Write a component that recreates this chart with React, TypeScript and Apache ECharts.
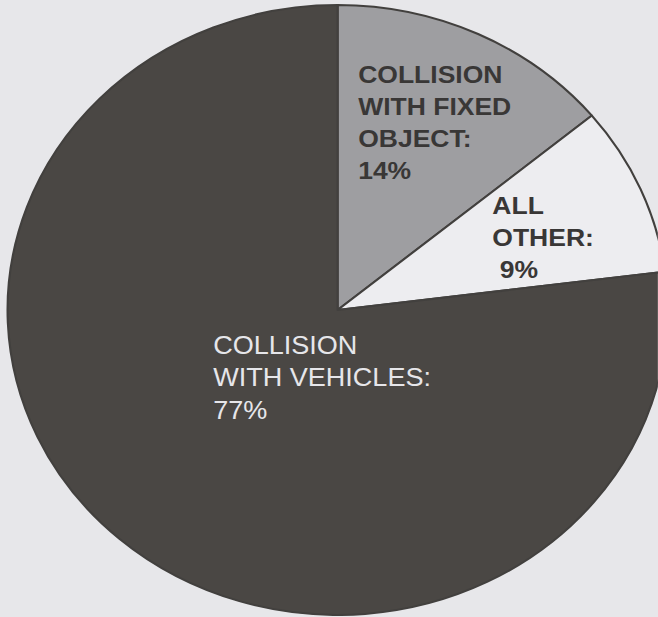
import React, { useEffect, useRef } from 'react';
import * as echarts from 'echarts';

// Slices in drawing order, clockwise from 12 o'clock
const categories = ['COLLISION WITH FIXED OBJECT', 'ALL OTHER', 'COLLISION WITH VEHICLES'];
const labelNames = ['COLLISION\nWITH FIXED\nOBJECT', 'ALL\nOTHER', 'COLLISION\nWITH VEHICLES'];
const shares = [14, 9, 77];
const sliceColors = ['#9e9ea1', '#ededf0', '#4a4744'];

// the scanned original is slightly stretched horizontally
const SX = 1.082;

export default function App() {
  const ref = useRef<HTMLDivElement>(null);

  useEffect(() => {
    const chart = echarts.init(ref.current!, null, { renderer: 'svg' });

    const labelStyles = [
      { x: 331, y: 58, weight: 'bold', size: 24.5, fill: '#393736', lh: 32, indent: '' },
      { x: 455, y: 189, weight: 'bold', size: 24.5, fill: '#393736', lh: 32, indent: ' ' },
      { x: 197, y: 329, weight: 'normal', size: 25, fill: '#e6e6ea', lh: 32.5, indent: '' },
    ];

    chart.setOption({
      animation: false,
      backgroundColor: 'transparent',
      series: [
        {
          type: 'pie',
          center: [312, 310],
          radius: 305,
          startAngle: 90,
          clockwise: true,
          silent: true,
          label: { show: false },
          labelLine: { show: false },
          itemStyle: { borderColor: '#42403e', borderWidth: 2 },
          data: categories.map((name, i) => ({
            name,
            value: shares[i],
            itemStyle: { color: sliceColors[i] },
          })),
        },
      ],
      graphic: labelNames.map((n, i) => {
        const s = labelStyles[i];
        return {
          type: 'text',
          z: 100,
          x: s.x,
          y: s.y,
          silent: true,
          style: {
            text: `${n}:\n${s.indent}${shares[i]}%`,
            fontFamily: '"Liberation Sans", Arial, sans-serif',
            fontWeight: s.weight,
            fontSize: s.size,
            lineHeight: s.lh,
            fill: s.fill,
            align: 'left',
            verticalAlign: 'top',
          },
        };
      }),
    });

    return () => chart.dispose();
  }, []);

  return (
    <div
      style={{
        position: 'fixed',
        left: 0,
        top: 0,
        width: 658,
        height: 617,
        background: '#e7e7ea',
        overflow: 'hidden',
      }}
    >
      <div
        ref={ref}
        style={{
          width: 608,
          height: 617,
          transform: `scaleX(${SX})`,
          transformOrigin: '0 0',
        }}
      />
    </div>
  );
}
